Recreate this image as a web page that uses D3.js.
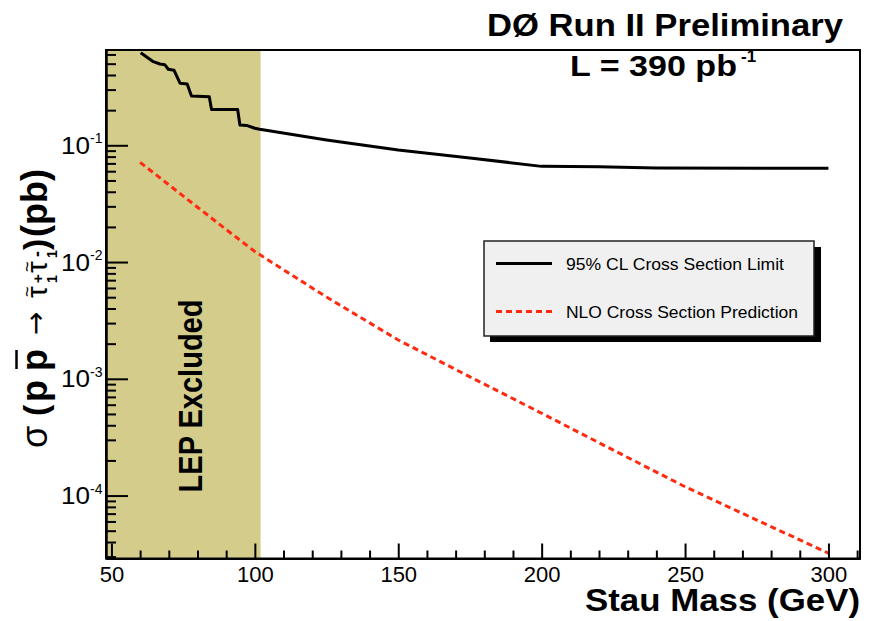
<!DOCTYPE html>
<html>
<head>
<meta charset="utf-8">
<script src="https://cdn.jsdelivr.net/npm/d3@7"></script>
<style>
body { margin: 0; background: #fff; }
svg { display: block; }
text { font-family: "Liberation Sans", Arial, Helvetica, sans-serif; }
</style>
</head>
<body>
<svg width="871" height="621"></svg>
<script>
// 95% CL limit (step-like below LEP bound), stau mass in GeV, sigma in pb
const limitMass = [60.2, 64.6, 66.9, 68.6, 69.8, 71.8, 73.9, 76.4, 77.9, 84.1, 84.9, 94, 94.8, 97.1, 100, 101.7, 125, 150, 175, 200, 220, 240, 300];
const limitXsec = [0.621, 0.52, 0.497, 0.49, 0.448, 0.44, 0.34, 0.335, 0.264, 0.26, 0.203, 0.203, 0.149, 0.148, 0.14, 0.137, 0.111, 0.091, 0.078, 0.066, 0.0655, 0.064, 0.0635];

// NLO prediction
const nloMass = [60, 70, 80, 90, 100, 125, 150, 175, 200, 225, 250, 275, 300];
const nloXsec = [0.0714, 0.0459, 0.0295, 0.0190, 0.0123, 0.00501, 0.00215, 0.00104, 5.07e-4, 2.45e-4, 1.19e-4, 6.17e-5, 3.21e-5];

const lepLimit = 102;
const xMajor = [50, 100, 150, 200, 250, 300];
const yMajor = [1e-4, 1e-3, 1e-2, 1e-1];
const yExp = ["-4", "-3", "-2", "-1"];
const legendLabels = ["95% CL Cross Section Limit", "NLO Cross Section Prediction"];

var svg = d3.select("svg");
var pLeft = 106, pRight = 860, pTop = 50, pBottom = 558.5;

var x = d3.scaleLinear().domain([48.1, 311]).range([pLeft, pRight]);
var y = d3.scaleLog().domain([2.89e-5, 0.655]).range([pBottom, pTop]);

// LEP excluded band
svg.append("rect")
    .attr("x", pLeft).attr("y", pTop)
    .attr("width", x(lepLimit) - pLeft)
    .attr("height", pBottom - pTop)
    .attr("fill", "#d3cc8b");

var line = d3.line().x(d => x(d[0])).y(d => y(d[1]));

svg.append("path")
    .datum(d3.zip(nloMass, nloXsec))
    .attr("d", line)
    .attr("fill", "none")
    .attr("stroke", "#ff2a0f")
    .attr("stroke-width", 3)
    .attr("stroke-dasharray", "6,4");

svg.append("path")
    .datum(d3.zip(limitMass, limitXsec))
    .attr("d", line)
    .attr("fill", "none")
    .attr("stroke", "#000")
    .attr("stroke-width", 3)
    .attr("stroke-linejoin", "round");

// ticks
var xMinor = d3.range(50, 311, 10).filter(v => v % 50 != 0);
var yMinor = [];
for (let k = -5; k <= -1; k++) {
    for (let m = 2; m <= 9; m++) {
        let v = m * Math.pow(10, k);
        if (v > 2.89e-5 && v < 0.655) yMinor.push(v);
    }
}

svg.append("g")
    .attr("transform", `translate(0,${pBottom})`)
    .call(d3.axisBottom(x).tickValues(xMinor).tickSize(-8).tickSizeOuter(0).tickFormat(""));

var xAxis = svg.append("g")
    .attr("transform", `translate(0,${pBottom})`)
    .call(d3.axisBottom(x).tickValues(xMajor).tickSize(-15).tickSizeOuter(0).tickPadding(8));
xAxis.selectAll("text")
    .attr("font-family", "Liberation Sans, Arial, sans-serif")
    .attr("font-size", 22)
    .attr("fill", "#000");

svg.append("g")
    .attr("transform", `translate(${pLeft},0)`)
    .call(d3.axisLeft(y).tickValues(yMinor).tickSize(-10).tickSizeOuter(0).tickFormat(""));

svg.append("g")
    .attr("transform", `translate(${pLeft},0)`)
    .call(d3.axisLeft(y).tickValues(yMajor).tickSize(-22).tickSizeOuter(0).tickFormat(""));

svg.selectAll(".tick line").attr("stroke", "#000").attr("stroke-width", 2);
svg.selectAll(".domain").attr("stroke", "#000").attr("stroke-width", 2);

// y tick labels 10^n
var ylab = svg.append("g").selectAll("g")
    .data(yMajor)
    .enter()
    .append("g");
ylab.append("text")
    .attr("x", 90)
    .attr("y", d => y(d) + 8.5)
    .attr("text-anchor", "end")
    .attr("font-size", 24)
    .attr("textLength", 29).attr("lengthAdjust", "spacingAndGlyphs")
    .text("10");
ylab.append("text")
    .attr("x", 90)
    .attr("y", d => y(d) - 2)
    .attr("font-size", 14)
    .text((d, i) => yExp[i]);

// frame
svg.append("rect")
    .attr("x", pLeft).attr("y", pTop)
    .attr("width", pRight - pLeft).attr("height", pBottom - pTop)
    .attr("fill", "none").attr("stroke", "#000").attr("stroke-width", 2);

// legend
var lg = svg.append("g");
lg.append("rect").attr("x", 490).attr("y", 247).attr("width", 331).attr("height", 95).attr("fill", "#000");
lg.append("rect").attr("x", 484).attr("y", 241).attr("width", 330).attr("height", 95)
    .attr("fill", "#f0f0f0").attr("stroke", "#222").attr("stroke-width", 1.5);
lg.append("line").attr("x1", 496).attr("x2", 552).attr("y1", 263.5).attr("y2", 263.5)
    .attr("stroke", "#000").attr("stroke-width", 3);
lg.append("line").attr("x1", 496).attr("x2", 552).attr("y1", 311.5).attr("y2", 311.5)
    .attr("stroke", "#ff2a0f").attr("stroke-width", 3).attr("stroke-dasharray", "6,4");
lg.selectAll("text.lab")
    .data(legendLabels)
    .enter()
    .append("text")
    .attr("x", 566)
    .attr("y", (d, i) => 269.5 + i * 48)
    .attr("font-size", 17)
    .attr("textLength", (d, i) => i ? 232 : 218)
    .attr("lengthAdjust", "spacingAndGlyphs")
    .text(d => d);

// title texts
svg.append("text")
    .attr("x", 487).attr("y", 36)
    .attr("font-size", 31).attr("font-weight", "bold")
    .attr("textLength", 356).attr("lengthAdjust", "spacingAndGlyphs")
    .text("D\u00d8 Run II Preliminary");

svg.append("text")
    .attr("x", 570).attr("y", 76)
    .attr("font-size", 29).attr("font-weight", "bold")
    .attr("textLength", 167).attr("lengthAdjust", "spacingAndGlyphs")
    .text("L = 390 pb");
svg.append("text")
    .attr("x", 741).attr("y", 62)
    .attr("font-size", 17).attr("font-weight", "bold")
    .text("-1");

svg.append("text")
    .attr("x", 860).attr("y", 611)
    .attr("text-anchor", "end")
    .attr("font-size", 31).attr("font-weight", "bold")
    .attr("textLength", 275).attr("lengthAdjust", "spacingAndGlyphs")
    .text("Stau Mass (GeV)");

svg.append("text")
    .attr("transform", "translate(202,396) scale(1.15,1) rotate(-90)")
    .attr("text-anchor", "middle")
    .attr("font-size", 29).attr("font-weight", "bold")
    .text("LEP Excluded");

// y axis title, built from pieces (u = screen y where each piece starts)
var yt = svg.append("g").attr("transform", "translate(47,0) rotate(-90)");
var pieces = [
    { t: "\u03c3", u: 448, s: 36, w: "normal", v: 0 },
    { t: "(", u: 416, s: 34, w: "bold", v: 0 },
    { t: "p", u: 402, s: 36, w: "bold", v: 0 },
    { t: "p", u: 371, s: 36, w: "bold", v: 0 },
    { t: "\u2192", u: 335, s: 28, w: "normal", v: -2 },
    { t: "\u03c4", u: 298, s: 30, w: "normal", v: 0 },
    { t: "1", u: 283, s: 14, w: "bold", v: 10 },
    { t: "+", u: 283, s: 15, w: "bold", v: -4 },
    { t: "\u03c4", u: 273, s: 30, w: "normal", v: 0 },
    { t: "1", u: 258, s: 14, w: "bold", v: 10 },
    { t: "-", u: 257, s: 18, w: "bold", v: -4 },
    { t: ")", u: 250, s: 34, w: "bold", v: 0 },
    { t: "(pb)", u: 237, s: 36, w: "bold", v: 0 }
];
yt.selectAll("text")
    .data(pieces)
    .enter()
    .append("text")
    .attr("x", d => -d.u)
    .attr("y", d => d.v)
    .attr("font-size", d => d.s)
    .attr("font-weight", d => d.w)
    .style("font-family", d => d.t == "\u2192" ? "DejaVu Sans" : null)
    .text(d => d.t);
yt.append("line")
    .attr("x1", -369).attr("x2", -350)
    .attr("y1", -30.5).attr("y2", -30.5)
    .attr("stroke", "#000").attr("stroke-width", 2.5);
// tildes over the staus
yt.selectAll("text.tl")
    .data([298, 273])
    .enter()
    .append("text")
    .attr("x", d => -d + 1)
    .attr("y", -14)
    .attr("font-size", 18)
    .text("~");
</script>
</body>
</html>
